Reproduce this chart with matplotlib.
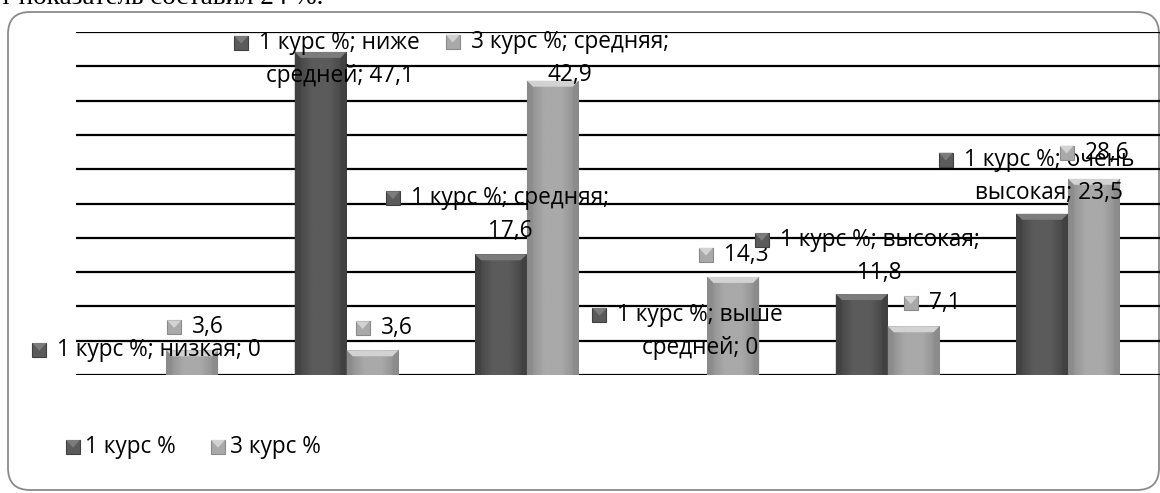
import numpy as np
import matplotlib
matplotlib.use('Agg')
import matplotlib.pyplot as plt
from matplotlib.patches import Rectangle, Polygon, FancyBboxPatch

plt.rcParams['font.family'] = ['Open Sans', 'DejaVu Sans']

categories = ['низкая', 'ниже средней', 'средняя', 'выше средней', 'высокая', 'очень высокая']
series_names = ['1 курс %', '3 курс %']
course1 = [0, 47.1, 17.6, 0, 11.8, 23.5]
course3 = [3.6, 3.6, 42.9, 14.3, 7.1, 28.6]

# base colour, edge shade, bevel highlight per series
styles = [('#5b5b5b', '#404040', '#7c7c7c'),
          ('#a9a9a9', '#8a8a8a', '#d2d2d2')]

W, H = 1160, 493
fig = plt.figure(figsize=(W / 100, H / 100), dpi=100)

# rounded frame around the chart area
frame = FancyBboxPatch((8 / 100, 3 / 100), 1151 / 100, 478 / 100,
                       boxstyle='round,pad=0,rounding_size=0.22',
                       transform=fig.dpi_scale_trans, facecolor='white',
                       edgecolor='#8a8a8a', linewidth=1.3, zorder=-5)
fig.patches.append(frame)

fig.text(0, (H - 3.5) / H, 'т показатель составил 24 %.', family='Liberation Serif',
         fontsize=19.5, va='baseline', ha='left')

ax = fig.add_axes([76 / W, (H - 375) / H, (1160 - 76) / W, 343 / H])
ax.set_facecolor('none')
ax.set_yticks(np.arange(0, 51, 5))
ax.set_xticks([])
ax.tick_params(left=False, labelleft=False)
for s in ax.spines.values():
    s.set_visible(False)
ax.yaxis.grid(True, color='black', linewidth=1.6)
ax.set_axisbelow(True)

x = np.arange(len(categories))
bw = 0.288
bars = [ax.bar(x - bw / 2, course1, bw, color=styles[0][0], zorder=2),
        ax.bar(x + bw / 2, course3, bw, color=styles[1][0], zorder=2)]

# shade each bar: darker sides, lighter centre, bevelled top
bx = 6 / 180.4
by = 6 / 6.86
for k, cont in enumerate(bars):
    base, dark, light = styles[k]
    cmap = matplotlib.colors.LinearSegmentedColormap.from_list('b', [dark, base, base, dark])
    for r in cont:
        x0, w, h = r.get_x(), r.get_width(), r.get_height()
        if h <= 0:
            continue
        grad = np.linspace(0, 1, 64).reshape(1, -1)
        im = ax.imshow(grad, extent=(x0, x0 + w, 0, h), cmap=cmap, aspect='auto', zorder=2.1)
        im.set_clip_path(r)
        bev = min(by, h / 2)
        ax.add_patch(Polygon([(x0, h), (x0 + w, h), (x0 + w - bx, h - bev), (x0 + bx, h - bev)],
                             closed=True, facecolor=light, edgecolor='none', zorder=2.2))
        ax.add_patch(Polygon([(x0, h), (x0 + bx, h - bev), (x0 + bx, 0), (x0, 0)],
                             closed=True, facecolor=dark, edgecolor='none', zorder=2.2, alpha=0.6))
        ax.add_patch(Polygon([(x0 + w, h), (x0 + w - bx, h - bev), (x0 + w - bx, 0), (x0 + w, 0)],
                             closed=True, facecolor=dark, edgecolor='none', zorder=2.2, alpha=0.6))
ax.set_xlim(-0.5, 5.51)
ax.set_ylim(0, 50)


def fmt(v):
    return '%d' % v if v == int(v) else ('%.1f' % v).replace('.', ',')


# data labels: (series, category, lines, dx, dy) - offsets in pixels from the bar top
label_layout = [
    (0, 0, ['{s}; {c}; {v}'], 19, 25),
    (1, 0, ['{v}'], 16, 23),
    (0, 1, ['{s}; ниже', 'средней; {v}'], 19, 9),
    (1, 1, ['{v}'], 24, 22),
    (0, 2, ['{s}; средняя;', '{v}'], 9, 56),
    (1, 2, ['{s}; средняя;', '{v}'], 17, 39),
    (0, 3, ['{s}; выше', 'средней; {v}'], 19, 60),
    (1, 3, ['{v}'], 13, 22),
    (0, 4, ['{s}; высокая;', '{v}'], 18, 54),
    (1, 4, ['{v}'], 31, 23),
    (0, 5, ['{s}; очень', 'высокая; {v}'], 7, 54),
    (1, 5, ['{v}'], 13, 26),
]
values = [course1, course3]
line_gap = 33
fs = 16.3

first_lines = []
for k, i, lines, dx, dy in label_layout:
    v = values[k][i]
    xc = x[i] + (-bw / 2 if k == 0 else bw / 2)
    for j, ln in enumerate(lines):
        t = ln.format(s=series_names[k], c=categories[i], v=fmt(v))
        a = ax.annotate(t, xy=(xc, v), xytext=(dx, dy - j * line_gap), textcoords='offset pixels',
                        ha='center', va='center', fontsize=fs, zorder=5, annotation_clip=False)
        if j == 0:
            first_lines.append((a, k))

legend_texts = []
for k, name in enumerate(series_names):
    t = fig.text((85 + 145 * k) / W, (H - 447) / H, name, fontsize=fs, ha='left', va='center')
    legend_texts.append((t, k))

fig.canvas.draw()
rend = fig.canvas.get_renderer()
inv = fig.transFigure.inverted()


def add_marker(bb, k, gap):
    size = 14
    yc = (bb.y0 + bb.y1) / 2
    x1 = bb.x0 - gap
    x0 = x1 - size
    base, dark, light = styles[k]
    p0 = inv.transform((x0, yc - size / 2))
    p1 = inv.transform((x1, yc + size / 2))
    w, h = p1 - p0
    fig.patches.append(Rectangle(p0, w, h, transform=fig.transFigure, facecolor=base,
                                 edgecolor=dark, linewidth=0.8, zorder=6))
    fig.patches.append(Polygon([(p0[0], p1[1]), (p1[0], p1[1]), (p0[0] + w / 2, p0[1] + h * 0.45)],
                               closed=True, transform=fig.transFigure, facecolor=light,
                               edgecolor='none', zorder=6.1))


for a, k in first_lines:
    add_marker(a.get_window_extent(rend), k, 11)
for t, k in legend_texts:
    add_marker(t.get_window_extent(rend), k, 5)

fig.savefig('out.png', dpi=100)
plt.close(fig)
